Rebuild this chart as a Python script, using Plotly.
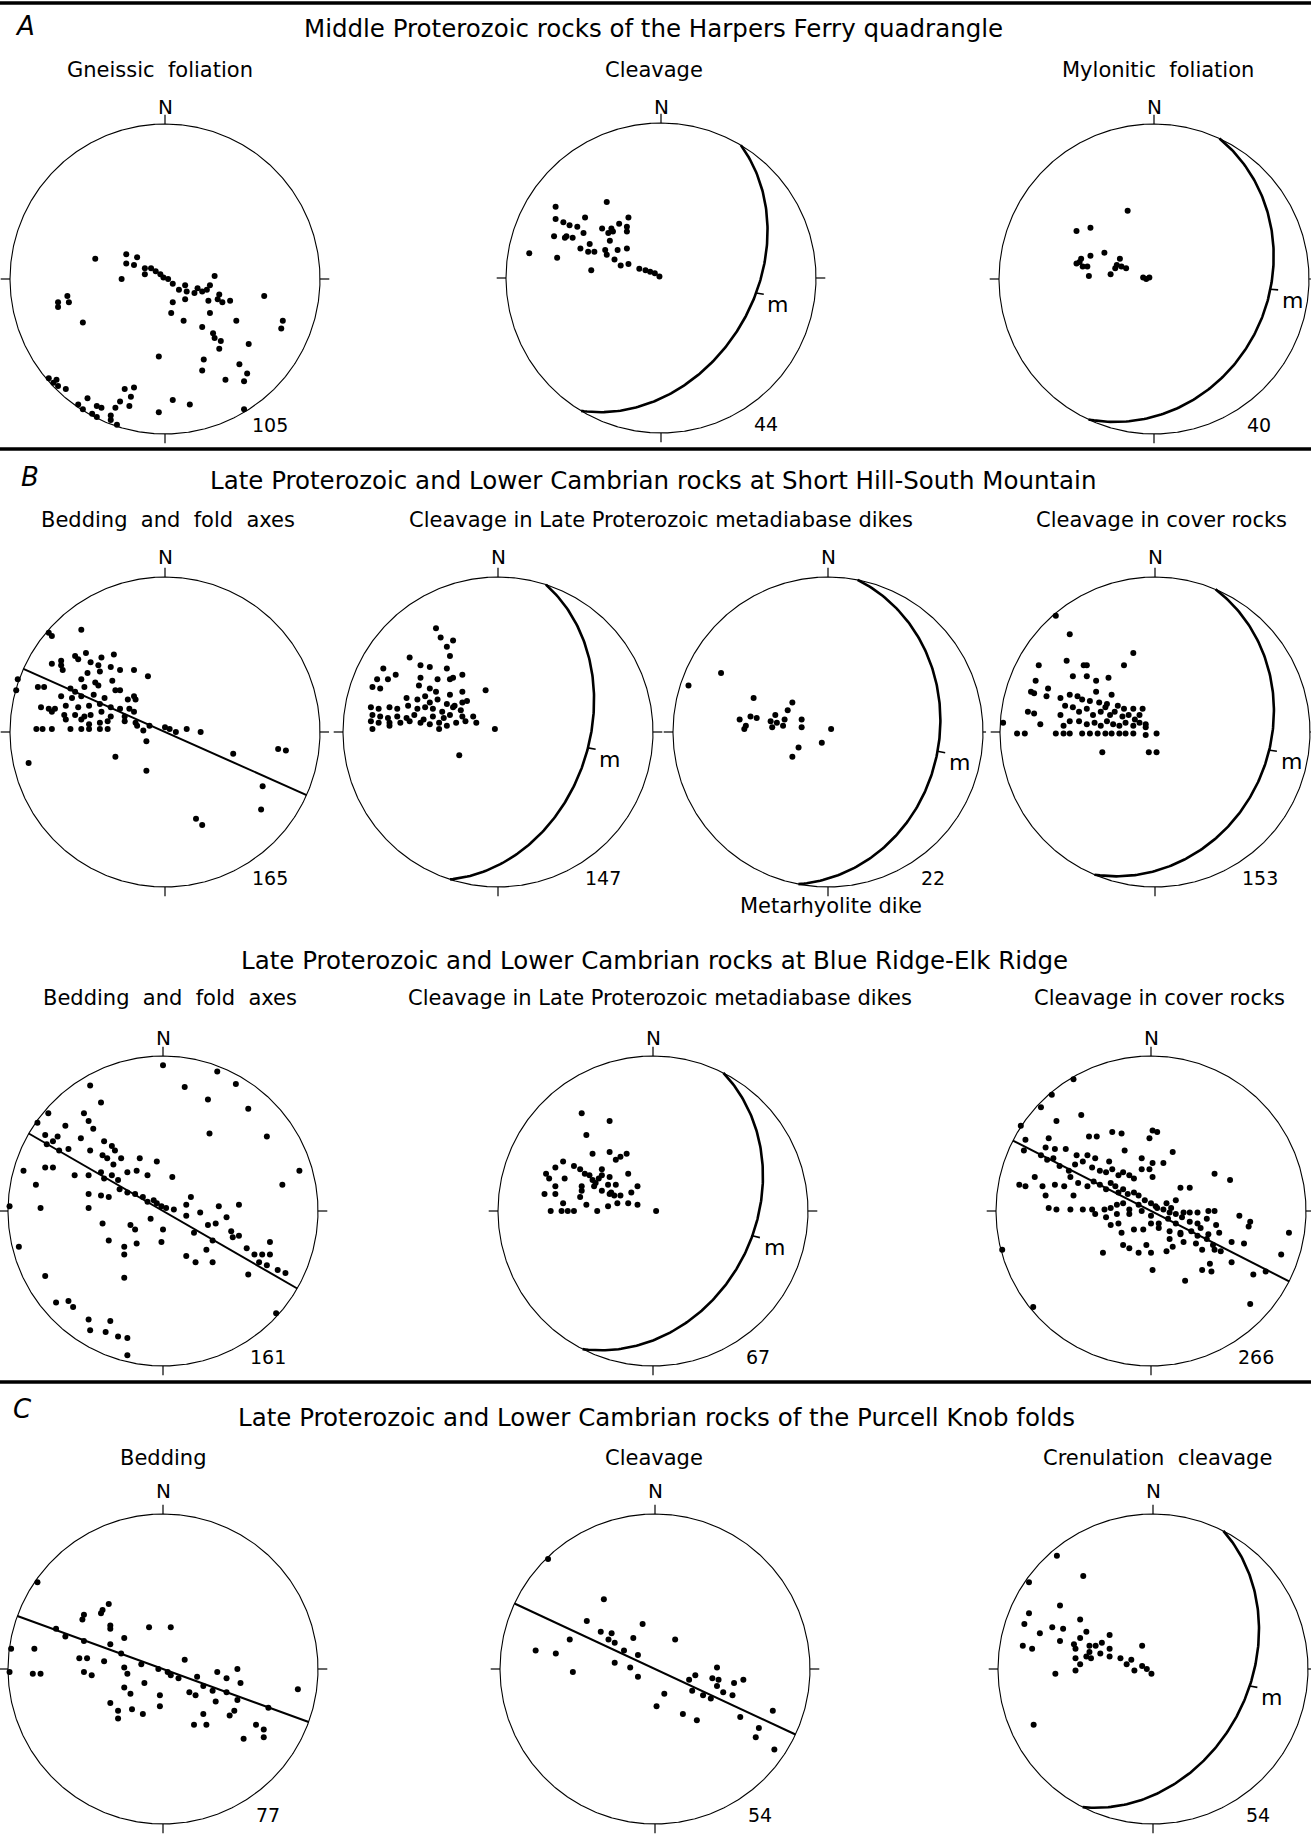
import numpy as np
import plotly.graph_objects as go

# ======================= DATA =======================
# Poles plotted on lower-hemisphere equal-area nets, in units of the
# primitive-circle radius (x = east, y = north).
A1_POLES = [(-0.45,0.13),(-0.25,0.16),(-0.18,0.14),(-0.25,0.10),(-0.20,0.09),(-0.13,0.07),(-0.09,0.07),
    (-0.06,0.05),(-0.03,0.03),(-0.01,0.01),(0.02,0.00),(0.05,-0.03),(0.09,-0.07),(0.13,-0.04),(0.14,-0.08),
    (0.19,-0.09),(0.21,-0.06),(0.24,-0.08),(0.27,-0.07),(0.29,-0.04),(0.32,0.02),(0.28,-0.14),(0.34,-0.13),
    (0.35,-0.10),(0.37,-0.15),(0.42,-0.14),(0.13,-0.13),(-0.28,0.00),(-0.13,0.03),(0.64,-0.11),(-0.69,-0.15),
    (-0.69,-0.18),(-0.63,-0.11),(-0.62,-0.15),(-0.53,-0.28),(0.05,-0.15),(0.04,-0.22),(0.12,-0.27),(0.29,-0.22),
    (0.24,-0.31),(0.46,-0.27),(0.76,-0.27),(0.75,-0.32),(0.31,-0.35),(0.32,-0.38),(0.36,-0.40),(0.54,-0.42),
    (0.35,-0.45),(-0.04,-0.50),(0.25,-0.52),(0.24,-0.59),(0.48,-0.55),(0.53,-0.61),(0.39,-0.65),(0.51,-0.66),
    (-0.75,-0.64),(-0.72,-0.67),(-0.69,-0.69),(-0.64,-0.71),(-0.56,-0.81),(-0.50,-0.77),(-0.44,-0.82),
    (-0.41,-0.83),(-0.53,-0.84),(-0.47,-0.87),(-0.44,-0.89),(-0.35,-0.88),(-0.35,-0.91),(-0.31,-0.94),
    (-0.32,-0.83),(-0.29,-0.79),(-0.26,-0.71),(-0.22,-0.76),(-0.20,-0.70),(-0.23,-0.82),(-0.04,-0.86),
    (0.05,-0.78),(0.16,-0.81),(0.51,-0.84),(-0.70,-0.65)]
A2_POLES = [(-0.68,0.46),(-0.35,0.49),(-0.49,0.39),(-0.21,0.39),(-0.68,0.38),(-0.63,0.36),(-0.59,0.34),
    (-0.54,0.33),(-0.38,0.32),(-0.27,0.35),(-0.31,0.30),(-0.22,0.33),(-0.22,0.30),(-0.69,0.27),(-0.62,0.26),
    (-0.61,0.27),(-0.57,0.26),(-0.50,0.29),(-0.33,0.24),(-0.85,0.16),(-0.67,0.13),(-0.52,0.19),(-0.46,0.22),
    (-0.47,0.17),(-0.43,0.17),(-0.36,0.18),(-0.35,0.15),(-0.28,0.18),(-0.22,0.19),(-0.30,0.12),(-0.26,0.08),
    (-0.21,0.09),(-0.45,0.05),(-0.14,0.06),(-0.10,0.05),(-0.07,0.04),(-0.04,0.03),(-0.01,0.01),(-0.34,0.29),
    (-0.32,0.32)]
A3_POLES = [(-0.17,0.44),(-0.50,0.31),(-0.41,0.33),(-0.32,0.17),(-0.41,0.15),(-0.47,0.13),(-0.50,0.10),
    (-0.46,0.08),(-0.43,0.08),(-0.42,0.02),(-0.28,0.03),(-0.24,0.09),(-0.22,0.13),(-0.21,0.08),(-0.18,0.07),
    (-0.07,0.01),(-0.03,0.01),(-0.05,0.00),(-0.48,0.11),(-0.25,0.07)]
B1_POLES = [(-0.75,0.64),(-0.73,0.62),(-0.54,0.66),(-0.58,0.49),(-0.51,0.51),(-0.41,0.48),(-0.33,0.50),
    (-0.73,0.44),(-0.67,0.46),(-0.67,0.43),(-0.56,0.47),(-0.48,0.45),(-0.43,0.43),(-0.35,0.42),(-0.20,0.40),
    (-0.11,0.36),(-0.66,0.40),(-0.50,0.38),(-0.42,0.39),(-0.29,0.40),(-0.95,0.34),(-0.54,0.34),(-0.45,0.32),
    (-0.34,0.33),(-0.82,0.29),(-0.78,0.29),(-0.61,0.28),(-0.58,0.26),(-0.52,0.29),(-0.43,0.30),(-0.32,0.27),
    (-0.29,0.27),(-0.20,0.23),(-0.96,0.27),(-0.67,0.23),(-0.60,0.22),(-0.54,0.23),(-0.46,0.24),(-0.39,0.22),
    (-0.24,0.21),(-0.19,0.21),(-0.80,0.16),(-0.75,0.15),(-0.71,0.15),(-0.64,0.17),(-0.56,0.16),(-0.49,0.17),
    (-0.42,0.18),(-0.35,0.16),(-0.29,0.15),(-0.23,0.15),(-0.73,0.13),(-0.65,0.11),(-0.58,0.11),(-0.52,0.10),
    (-0.48,0.11),(-0.41,0.13),(-0.35,0.10),(-0.26,0.10),(-0.20,0.13),(-0.64,0.08),(-0.54,0.08),(-0.49,0.05),
    (-0.42,0.06),(-0.37,0.07),(-0.26,0.07),(-0.19,0.06),(-0.83,0.02),(-0.79,0.02),(-0.73,0.02),(-0.61,0.02),
    (-0.54,0.02),(-0.49,0.02),(-0.42,0.02),(-0.37,0.02),(-0.18,0.04),(-0.14,0.01),(-0.10,0.04),(0.00,0.03),
    (0.03,0.02),(0.07,0.00),(0.14,0.02),(0.23,0.00),(-0.12,-0.06),(-0.32,-0.16),(-0.12,-0.25),(-0.88,-0.20),
    (0.44,-0.14),(0.73,-0.11),(0.78,-0.12),(0.63,-0.35),(0.62,-0.50),(0.20,-0.56),(0.24,-0.60)]
B2_POLES = [(-0.40,0.67),(-0.37,0.61),(-0.29,0.59),(-0.33,0.55),(-0.31,0.49),(-0.57,0.48),(-0.50,0.43),
    (-0.44,0.42),(-0.33,0.41),(-0.23,0.37),(-0.31,0.34),(-0.74,0.41),(-0.66,0.37),(-0.78,0.34),(-0.71,0.34),
    (-0.50,0.35),(-0.39,0.34),(-0.29,0.35),(-0.81,0.29),(-0.76,0.28),(-0.51,0.30),(-0.44,0.28),(-0.40,0.26),
    (-0.31,0.24),(-0.23,0.26),(-0.08,0.27),(-0.59,0.22),(-0.52,0.21),(-0.47,0.23),(-0.44,0.19),(-0.39,0.21),
    (-0.33,0.18),(-0.28,0.17),(-0.23,0.19),(-0.20,0.20),(-0.82,0.16),(-0.77,0.15),(-0.70,0.16),(-0.65,0.15),
    (-0.58,0.17),(-0.52,0.15),(-0.47,0.16),(-0.42,0.15),(-0.36,0.13),(-0.29,0.16),(-0.24,0.14),(-0.81,0.11),
    (-0.76,0.10),(-0.71,0.09),(-0.65,0.10),(-0.59,0.09),(-0.54,0.11),(-0.48,0.08),(-0.42,0.10),(-0.35,0.09),
    (-0.31,0.11),(-0.23,0.10),(-0.16,0.10),(-0.82,0.07),(-0.77,0.06),(-0.70,0.06),(-0.63,0.06),(-0.57,0.07),
    (-0.50,0.06),(-0.44,0.05),(-0.38,0.06),(-0.33,0.04),(-0.27,0.06),(-0.21,0.07),(-0.14,0.06),(-0.81,0.02),
    (-0.70,0.04),(-0.38,0.02),(-0.02,0.02),(-0.25,-0.15)]
B3_POLES = [(-0.90,0.30),(-0.69,0.38),(-0.48,0.22),(-0.57,0.08),(-0.54,0.02),(-0.50,0.10),(-0.46,0.09),
    (-0.37,0.07),(-0.36,0.03),(-0.34,0.11),(-0.29,0.04),(-0.28,0.08),(-0.26,0.14),(-0.23,0.19),(-0.17,0.08),
    (-0.17,0.03),(0.02,0.02),(-0.04,-0.07),(-0.19,-0.10),(-0.23,-0.16),(-0.53,0.04),(-0.33,0.06)]
B4_POLES = [(-0.64,0.75),(-0.55,0.63),(-0.14,0.51),(-0.57,0.46),(-0.75,0.43),(-0.46,0.43),(-0.44,0.43),
    (-0.20,0.43),(-0.53,0.36),(-0.44,0.36),(-0.38,0.33),(-0.30,0.35),(-0.77,0.33),(-0.69,0.28),(-0.80,0.26),
    (-0.78,0.25),(-0.70,0.23),(-0.61,0.22),(-0.55,0.24),(-0.50,0.23),(-0.47,0.21),(-0.42,0.20),(-0.38,0.26),
    (-0.36,0.19),(-0.31,0.18),(-0.28,0.24),(-0.24,0.17),(-0.20,0.15),(-0.14,0.15),(-0.08,0.15),(-0.82,0.13),
    (-0.78,0.12),(-0.74,0.05),(-0.61,0.11),(-0.58,0.17),(-0.53,0.16),(-0.49,0.13),(-0.44,0.15),(-0.40,0.11),
    (-0.35,0.13),(-0.32,0.16),(-0.29,0.11),(-0.26,0.13),(-0.21,0.10),(-0.17,0.11),(-0.13,0.08),(-0.10,0.11),
    (-0.06,0.05),(-0.59,0.04),(-0.55,0.07),(-0.49,0.07),(-0.44,0.05),(-0.39,0.06),(-0.35,0.04),(-0.31,0.07),
    (-0.27,0.05),(-0.23,0.04),(-0.19,0.06),(-0.14,0.04),(-0.10,0.06),(-0.06,0.03),(-0.98,0.06),(-0.89,-0.01),
    (-0.84,-0.01),(-0.64,-0.01),(-0.59,-0.01),(-0.55,-0.01),(-0.47,-0.01),(-0.42,-0.01),(-0.37,-0.01),
    (-0.32,-0.01),(-0.28,-0.01),(-0.23,-0.01),(-0.19,-0.01),(-0.14,-0.01),(-0.06,-0.02),(0.01,-0.01),
    (-0.34,-0.13),(-0.04,-0.13),(0.01,-0.13)]
B5_POLES = [(0.00,0.94),(0.35,0.90),(0.47,0.82),(0.14,0.80),(-0.47,0.81),(0.29,0.72),(-0.40,0.70),(0.55,0.66),
    (-0.74,0.63),(-0.81,0.57),(-0.51,0.63),(-0.48,0.58),(-0.63,0.55),(-0.45,0.53),(0.30,0.50),(0.67,0.48),
    (-0.76,0.49),(-0.68,0.48),(-0.53,0.47),(-0.47,0.39),(-0.38,0.45),(-0.33,0.42),(-0.31,0.39),(-0.75,0.43),
    (-0.71,0.45),(-0.67,0.39),(-0.61,0.40),(-0.39,0.36),(-0.36,0.34),(-0.32,0.30),(-0.27,0.34),(-0.15,0.34),
    (-0.04,0.32),(-0.76,0.28),(-0.71,0.28),(-0.90,0.26),(-0.57,0.23),(-0.48,0.23),(-0.40,0.25),(-0.38,0.21),
    (-0.33,0.23),(-0.29,0.20),(-0.23,0.25),(-0.17,0.26),(-0.10,0.23),(0.06,0.22),(0.88,0.26),(0.77,0.17),
    (-0.82,0.17),(-0.48,0.11),(-0.40,0.10),(-0.35,0.09),(-0.28,0.14),(-0.23,0.12),(-0.18,0.11),(-0.13,0.09),
    (-0.10,0.06),(-0.06,0.07),(-0.04,0.05),(-0.01,0.03),(0.02,0.02),(0.07,0.01),(0.15,0.04),(0.18,0.09),
    (0.24,-0.01),(0.36,0.03),(0.49,0.04),(0.41,-0.04),(-0.79,0.02),(-0.48,0.02),(-0.39,-0.08),(-0.21,-0.09),
    (-0.08,-0.05),(-0.18,-0.12),(0.00,-0.12),(0.15,-0.03),(0.20,-0.14),(0.29,-0.09),(0.34,-0.08),(0.44,-0.13),
    (0.45,-0.17),(0.49,-0.16),(0.54,-0.24),(0.59,-0.28),(0.64,-0.28),(0.69,-0.20),(0.69,-0.28),(0.62,-0.33),
    (0.67,-0.35),(0.74,-0.38),(0.79,-0.40),(0.55,-0.41),(0.32,-0.19),(0.28,-0.25),(0.21,-0.33),(0.15,-0.29),
    (0.32,-0.33),(-0.35,-0.19),(-0.25,-0.23),(-0.25,-0.28),(-0.17,-0.21),(-0.01,-0.20),(-0.93,-0.23),
    (-0.76,-0.42),(-0.25,-0.43),(-0.69,-0.59),(-0.61,-0.58),(-0.58,-0.62),(-0.48,-0.70),(-0.34,-0.71),
    (-0.47,-0.77),(-0.37,-0.78),(-0.29,-0.81),(-0.23,-0.82),(-0.23,-0.93),(0.73,-0.66),(-0.99,0.03)]
B6_POLES = [(-0.46,0.63),(-0.28,0.58),(-0.43,0.49),(-0.39,0.37),(-0.28,0.38),(-0.24,0.33),(-0.21,0.35),
    (-0.17,0.37),(-0.58,0.32),(-0.63,0.28),(-0.51,0.29),(-0.47,0.27),(-0.44,0.24),(-0.41,0.23),(-0.33,0.27),
    (-0.33,0.23),(-0.69,0.24),(-0.67,0.21),(-0.57,0.21),(-0.28,0.22),(-0.16,0.24),(-0.35,0.21),(-0.37,0.18),
    (-0.38,0.16),(-0.39,0.20),(-0.46,0.16),(-0.46,0.13),(-0.63,0.16),(-0.33,0.13),(-0.29,0.17),(-0.27,0.12),
    (-0.24,0.17),(-0.70,0.11),(-0.63,0.11),(-0.47,0.09),(-0.28,0.11),(-0.25,0.10),(-0.21,0.10),(-0.14,0.12),
    (-0.10,0.16),(-0.43,0.04),(-0.29,0.03),(-0.23,0.05),(-0.16,0.05),(-0.10,0.04),(-0.58,0.05),(-0.66,0.00),
    (-0.59,0.00),(-0.55,0.00),(-0.51,0.00),(-0.36,0.00),(0.02,0.00)]
B7_POLES = [(-0.50,0.85),(-0.64,0.75),(-0.71,0.67),(-0.61,0.58),(-0.45,0.62),(-0.84,0.55),(0.01,0.52),
    (0.04,0.51),(-0.01,0.47),(-0.40,0.48),(-0.35,0.48),(-0.25,0.51),(-0.19,0.50),(0.14,0.38),(-0.81,0.46),
    (-0.66,0.47),(-0.68,0.41),(-0.62,0.40),(-0.55,0.40),(-0.48,0.36),(-0.41,0.36),(-0.36,0.34),(-0.27,0.32),
    (-0.17,0.39),(-0.06,0.34),(0.01,0.31),(0.08,0.31),(-0.06,0.27),(-0.01,0.27),(-0.82,0.39),(-0.71,0.36),
    (-0.67,0.33),(-0.63,0.34),(-0.59,0.29),(-0.53,0.26),(-0.49,0.30),(-0.44,0.32),(-0.38,0.28),(-0.33,0.26),
    (-0.29,0.25),(-0.25,0.27),(-0.21,0.23),(-0.18,0.25),(-0.14,0.23),(-0.11,0.21),(0.01,0.22),(-0.75,0.22),
    (-0.70,0.16),(-0.62,0.17),(-0.56,0.16),(-0.52,0.22),(-0.47,0.18),(-0.41,0.16),(-0.37,0.19),(-0.33,0.17),
    (-0.29,0.14),(-0.26,0.18),(-0.23,0.16),(-0.21,0.12),(-0.18,0.14),(-0.15,0.11),(-0.11,0.12),(-0.08,0.10),
    (-0.04,0.07),(0.00,0.05),(0.04,0.02),(0.08,0.01),(0.12,-0.01),(0.16,-0.02),(0.21,-0.01),(0.25,-0.01),
    (0.30,-0.01),(0.37,0.00),(0.41,0.00),(-0.85,0.17),(-0.81,0.16),(-0.68,0.10),(-0.50,0.10),(-0.66,0.02),
    (-0.61,0.01),(-0.52,0.01),(-0.44,0.01),(-0.38,0.01),(-0.30,0.01),(-0.26,0.02),(-0.22,0.04),(-0.18,0.05),
    (-0.14,0.01),(-0.08,0.04),(0.03,0.03),(0.10,0.05),(0.13,0.02),(0.16,0.07),(0.19,0.15),(0.25,0.15),
    (0.41,0.24),(0.51,0.20),(-0.36,-0.02),(-0.29,-0.04),(-0.22,-0.02),(-0.14,-0.02),(-0.06,0.00),(0.00,-0.03),
    (0.05,-0.08),(0.11,-0.05),(0.16,-0.08),(0.20,-0.04),(0.25,-0.07),(0.30,-0.08),(0.36,-0.05),(0.42,-0.09),
    (0.57,-0.03),(0.64,-0.07),(0.63,-0.10),(-0.21,-0.08),(-0.26,-0.09),(-0.19,-0.14),(0.05,-0.11),(0.12,-0.13),
    (0.19,-0.14),(0.26,-0.13),(0.32,-0.11),(0.37,-0.15),(0.44,-0.14),(0.52,-0.20),(0.60,-0.21),(0.89,-0.14),
    (0.84,-0.28),(0.74,-0.39),(0.66,-0.41),(0.52,-0.33),(0.45,-0.26),(0.41,-0.25),(0.40,-0.22),(0.36,-0.18),
    (0.30,-0.16),(-0.03,-0.22),(-0.08,-0.27),(-0.14,-0.24),(-0.18,-0.22),(0.00,-0.27),(0.10,-0.26),(0.14,-0.23),
    (0.19,-0.15),(0.29,-0.21),(0.33,-0.25),(0.38,-0.34),(0.33,-0.38),(0.39,-0.39),(0.22,-0.45),(0.01,-0.38),
    (-0.31,-0.27),(-0.96,-0.25),(-0.76,-0.62),(0.64,-0.60),(0.12,-0.18),(0.21,-0.20),(0.00,-0.08),(-0.05,-0.12),
    (-0.11,-0.12)]
C1_POLES = [(-0.81,0.56),(-0.35,0.42),(-0.39,0.38),(-0.40,0.36),(-0.51,0.35),(-0.52,0.32),(-0.34,0.28),
    (-0.34,0.26),(-0.09,0.27),(0.05,0.27),(-0.69,0.26),(-0.63,0.21),(-0.98,0.13),(-0.83,0.13),(-0.51,0.18),
    (-0.34,0.16),(-0.25,0.20),(-0.54,0.07),(-0.49,0.07),(-0.38,0.05),(-0.27,0.10),(-0.25,0.01),(-0.23,-0.03),
    (-0.14,0.03),(-0.03,0.00),(0.03,-0.02),(0.05,-0.04),(0.10,-0.06),(0.14,0.06),(0.48,0.00),(0.35,-0.02),
    (0.22,-0.05),(0.26,-0.11),(0.32,-0.14),(0.41,-0.06),(0.41,-0.15),(0.50,-0.09),(0.87,-0.13),(-0.99,-0.02),
    (-0.84,-0.03),(-0.79,-0.03),(-0.51,-0.02),(-0.46,-0.04),(-0.12,-0.09),(-0.25,-0.12),(-0.21,-0.16),
    (-0.02,-0.17),(0.17,-0.15),(0.21,-0.17),(0.34,-0.21),(0.48,-0.20),(-0.34,-0.22),(-0.29,-0.27),(-0.29,-0.32),
    (-0.20,-0.26),(-0.13,-0.29),(-0.02,-0.24),(0.26,-0.29),(0.20,-0.36),(0.28,-0.36),(0.43,-0.30),(0.46,-0.27),
    (0.60,-0.36),(0.65,-0.39),(0.65,-0.44),(0.52,-0.45),(0.68,-0.25)]
C2_POLES = [(-0.69,0.71),(-0.33,0.45),(-0.44,0.31),(-0.08,0.29),(-0.35,0.24),(-0.28,0.23),(-0.30,0.19),
    (-0.26,0.17),(-0.14,0.20),(-0.55,0.19),(-0.77,0.12),(-0.64,0.10),(-0.20,0.12),(-0.11,0.09),(0.13,0.19),
    (-0.53,-0.02),(-0.26,0.04),(-0.16,0.01),(-0.11,-0.05),(0.22,-0.07),(0.26,-0.04),(0.40,0.01),(0.37,-0.06),
    (0.41,-0.07),(0.40,-0.11),(0.51,-0.09),(0.57,-0.07),(0.06,-0.16),(0.24,-0.14),(0.31,-0.17),(0.36,-0.19),
    (0.44,-0.15),(0.50,-0.17),(0.01,-0.24),(0.18,-0.29),(0.27,-0.33),(0.55,-0.31),(0.76,-0.27),(0.67,-0.38),
    (0.65,-0.44),(0.77,-0.52)]
C3_POLES = [(-0.62,0.73),(-0.45,0.60),(-0.80,0.56),(-0.60,0.41),(-0.47,0.32),(-0.80,0.36),(-0.83,0.29),
    (-0.73,0.23),(-0.65,0.27),(-0.58,0.26),(-0.60,0.18),(-0.43,0.24),(-0.47,0.20),(-0.51,0.16),(-0.41,0.15),
    (-0.37,0.15),(-0.33,0.17),(-0.28,0.22),(-0.50,0.13),(-0.41,0.11),(-0.34,0.10),(-0.28,0.13),(-0.43,0.08),
    (-0.40,0.07),(-0.50,0.07),(-0.47,0.03),(-0.21,0.07),(-0.17,0.03),(-0.12,-0.01),(-0.14,0.06),(-0.07,0.02),
    (-0.07,0.15),(-0.04,0.00),(-0.01,-0.03),(-0.84,0.15),(-0.78,0.13),(-0.63,-0.03),(-0.50,-0.01),(-0.77,-0.36),
    (-0.28,0.08)]

COUNTS = [105, 44, 40, 165, 147, 22, 153, 161, 67, 266, 77, 54, 54]
# mean cleavage/foliation plane "m": (strike, dip) right-hand rule
MEAN_PLANES = [None, (31, 40), (25, 27), None, (18, 41), (11, 29), (23, 27),
               None, (27, 35), None, None, None, (27, 38)]
M_TICK_TRENDS = [None, 99, 95, None, 100, 100, 99, None, 104, None, None, None, 100]
# trend of straight (vertical great-circle) line
LINE_TRENDS = [None, None, None, 294, None, None, None, 300, None, 297, 290, 295, None]

SECTION_LETTERS = ["A", "B", "C"]
SECTION_TITLES = ["Middle Proterozoic rocks of the Harpers Ferry quadrangle",
                  "Late Proterozoic and Lower Cambrian rocks at Short Hill-South Mountain",
                  "Late Proterozoic and Lower Cambrian rocks at Blue Ridge-Elk Ridge",
                  "Late Proterozoic and Lower Cambrian rocks of the Purcell Knob folds"]
SUBTITLES = ["Gneissic\u00a0\u00a0foliation", "Cleavage", "Mylonitic\u00a0\u00a0foliation",
             "Bedding\u00a0\u00a0and\u00a0\u00a0fold\u00a0\u00a0axes",
             "Cleavage in Late Proterozoic metadiabase dikes", "Cleavage in cover rocks",
             "Bedding\u00a0\u00a0and\u00a0\u00a0fold\u00a0\u00a0axes",
             "Cleavage in Late Proterozoic metadiabase dikes", "Cleavage in cover rocks",
             "Bedding", "Cleavage", "Crenulation\u00a0\u00a0cleavage"]
EXTRA_LABEL = "Metarhyolite dike"

POLES = [A1_POLES, A2_POLES, A3_POLES, B1_POLES, B2_POLES, B3_POLES, B4_POLES,
         B5_POLES, B6_POLES, B7_POLES, C1_POLES, C2_POLES, C3_POLES]

# ======================= LAYOUT =======================
W, H = 1311, 1841
R = 155
FONT = "DejaVu Sans"
NET_CENTERS = [(165, 279), (661, 278), (1154, 279),
               (165, 732), (498, 732), (828, 732), (1155, 732),
               (163, 1211), (653, 1211), (1151, 1211),
               (163, 1669), (655, 1669), (1153, 1669)]
N_LABEL_Y = [107, 107, 107, 557, 557, 557, 557, 1038, 1038, 1038, 1491, 1491, 1491]
LETTER_POS = [(25, 26), (30, 477), (22, 1409)]
TITLE_POS = [(653, 28), (653, 481), (654, 960), (656, 1417)]
SUBTITLE_POS = [(160, 70), (654, 70), (1158, 70), (168, 520), (661, 520), (1161, 520),
                (170, 998), (660, 998), (1159, 998), (163, 1458), (654, 1458), (1157, 1458)]
EXTRA_POS = (831, 906)
RULE_Y = [3, 449, 1382]

SQ2 = np.sqrt(2.0)


def eq_area(trend, plunge):
    t = np.radians(trend)
    p = np.radians(plunge)
    r = SQ2 * np.sin((np.pi / 2 - p) / 2)
    return r * np.sin(t), r * np.cos(t)


def great_circle(strike, dip, n=181):
    beta = np.linspace(0, 180, n)
    plunge = np.degrees(np.arctan(np.tan(np.radians(dip)) * np.sin(np.radians(beta))))
    return eq_area(strike + beta, plunge)


fig = go.Figure()
annotations = []
axes = {}
BLACK = "black"

for i, (cx, cy) in enumerate(NET_CENTERS):
    sfx = "" if i == 0 else str(i + 1)
    ext = 1.09
    x0, x1 = max(0, cx - ext * R), min(W, cx + ext * R)
    y0, y1 = max(0, cy - ext * R), min(H, cy + ext * R)
    axes["xaxis" + sfx] = dict(domain=[x0 / W, x1 / W], range=[(x0 - cx) / R, (x1 - cx) / R],
                               visible=False, fixedrange=True)
    axes["yaxis" + sfx] = dict(domain=[1 - y1 / H, 1 - y0 / H], range=[(cy - y1) / R, (cy - y0) / R],
                               visible=False, fixedrange=True)
    xr, yr = "x" + sfx, "y" + sfx

    th = np.linspace(0, 2 * np.pi, 721)
    fig.add_trace(go.Scatter(x=np.sin(th), y=np.cos(th), mode="lines",
                             line=dict(color=BLACK, width=1.1), xaxis=xr, yaxis=yr,
                             hoverinfo="skip", showlegend=False))
    tl = 1.06
    fig.add_trace(go.Scatter(x=[0, 0, None, 1, tl, None, 0, 0, None, -1, -tl],
                             y=[1, tl, None, 0, 0, None, -1, -tl, None, 0, 0],
                             mode="lines", line=dict(color=BLACK, width=1.2),
                             xaxis=xr, yaxis=yr, hoverinfo="skip", showlegend=False))

    if MEAN_PLANES[i] is not None:
        s, d = MEAN_PLANES[i]
        gx, gy = great_circle(s, d)
        fig.add_trace(go.Scatter(x=gx, y=gy, mode="lines", line=dict(color=BLACK, width=2.6),
                                 xaxis=xr, yaxis=yr, hoverinfo="skip", showlegend=False))
        tt = M_TICK_TRENDS[i]
        p = np.degrees(np.arctan(np.tan(np.radians(d)) * np.sin(np.radians(tt - s))))
        mx, my = eq_area(tt, p)
        rr = np.hypot(mx, my)
        ux, uy = mx / rr, my / rr
        fig.add_trace(go.Scatter(x=[mx, mx + 0.05 * ux], y=[my, my + 0.05 * uy], mode="lines",
                                 line=dict(color=BLACK, width=1.6), xaxis=xr, yaxis=yr,
                                 hoverinfo="skip", showlegend=False))
        annotations.append(dict(x=mx + 0.06, y=my - 0.075, xref=xr, yref=yr, text="m",
                                showarrow=False, xanchor="left", yanchor="middle",
                                font=dict(family=FONT, size=22, color=BLACK)))

    if LINE_TRENDS[i] is not None:
        t = np.radians(LINE_TRENDS[i])
        fig.add_trace(go.Scatter(x=[np.sin(t), -np.sin(t)], y=[np.cos(t), -np.cos(t)], mode="lines",
                                 line=dict(color=BLACK, width=2.0), xaxis=xr, yaxis=yr,
                                 hoverinfo="skip", showlegend=False))

    px = [pt[0] for pt in POLES[i]]
    py = [pt[1] for pt in POLES[i]]
    fig.add_trace(go.Scatter(x=px, y=py, mode="markers",
                             marker=dict(color=BLACK, size=6, line=dict(width=0)),
                             xaxis=xr, yaxis=yr, hoverinfo="skip", showlegend=False))

    annotations.append(dict(x=cx / W, y=1 - N_LABEL_Y[i] / H, xref="paper", yref="paper", text="N",
                            showarrow=False, xanchor="center", yanchor="middle",
                            font=dict(family=FONT, size=20, color=BLACK)))
    annotations.append(dict(x=0.68, y=-0.94, xref=xr, yref=yr, text=str(COUNTS[i]), showarrow=False,
                            xanchor="center", yanchor="middle",
                            font=dict(family=FONT, size=19, color=BLACK)))

for (lx, ly), letter in zip(LETTER_POS, SECTION_LETTERS):
    annotations.append(dict(x=lx / W, y=1 - ly / H, xref="paper", yref="paper",
                            text="<i>" + letter + "</i>", showarrow=False,
                            xanchor="center", yanchor="middle",
                            font=dict(family=FONT, size=26, color=BLACK)))
for (tx, ty), title in zip(TITLE_POS, SECTION_TITLES):
    annotations.append(dict(x=tx / W, y=1 - ty / H, xref="paper", yref="paper", text=title,
                            showarrow=False, xanchor="center", yanchor="middle",
                            font=dict(family=FONT, size=24.5, color=BLACK)))
for (sx, sy), sub in zip(SUBTITLE_POS, SUBTITLES):
    annotations.append(dict(x=sx / W, y=1 - sy / H, xref="paper", yref="paper", text=sub,
                            showarrow=False, xanchor="center", yanchor="middle",
                            font=dict(family=FONT, size=21, color=BLACK)))
annotations.append(dict(x=EXTRA_POS[0] / W, y=1 - EXTRA_POS[1] / H, xref="paper", yref="paper",
                        text=EXTRA_LABEL, showarrow=False, xanchor="center", yanchor="middle",
                        font=dict(family=FONT, size=21, color=BLACK)))

shapes = [dict(type="line", xref="paper", yref="paper", x0=0, x1=1,
               y0=1 - yy / H, y1=1 - yy / H, line=dict(color=BLACK, width=3.5))
          for yy in RULE_Y]

fig.update_layout(width=W, height=H, margin=dict(l=0, r=0, t=0, b=0),
                  paper_bgcolor="white", plot_bgcolor="white",
                  showlegend=False, annotations=annotations, shapes=shapes, **axes)

fig.write_html("out.html", config={"displayModeBar": False})
